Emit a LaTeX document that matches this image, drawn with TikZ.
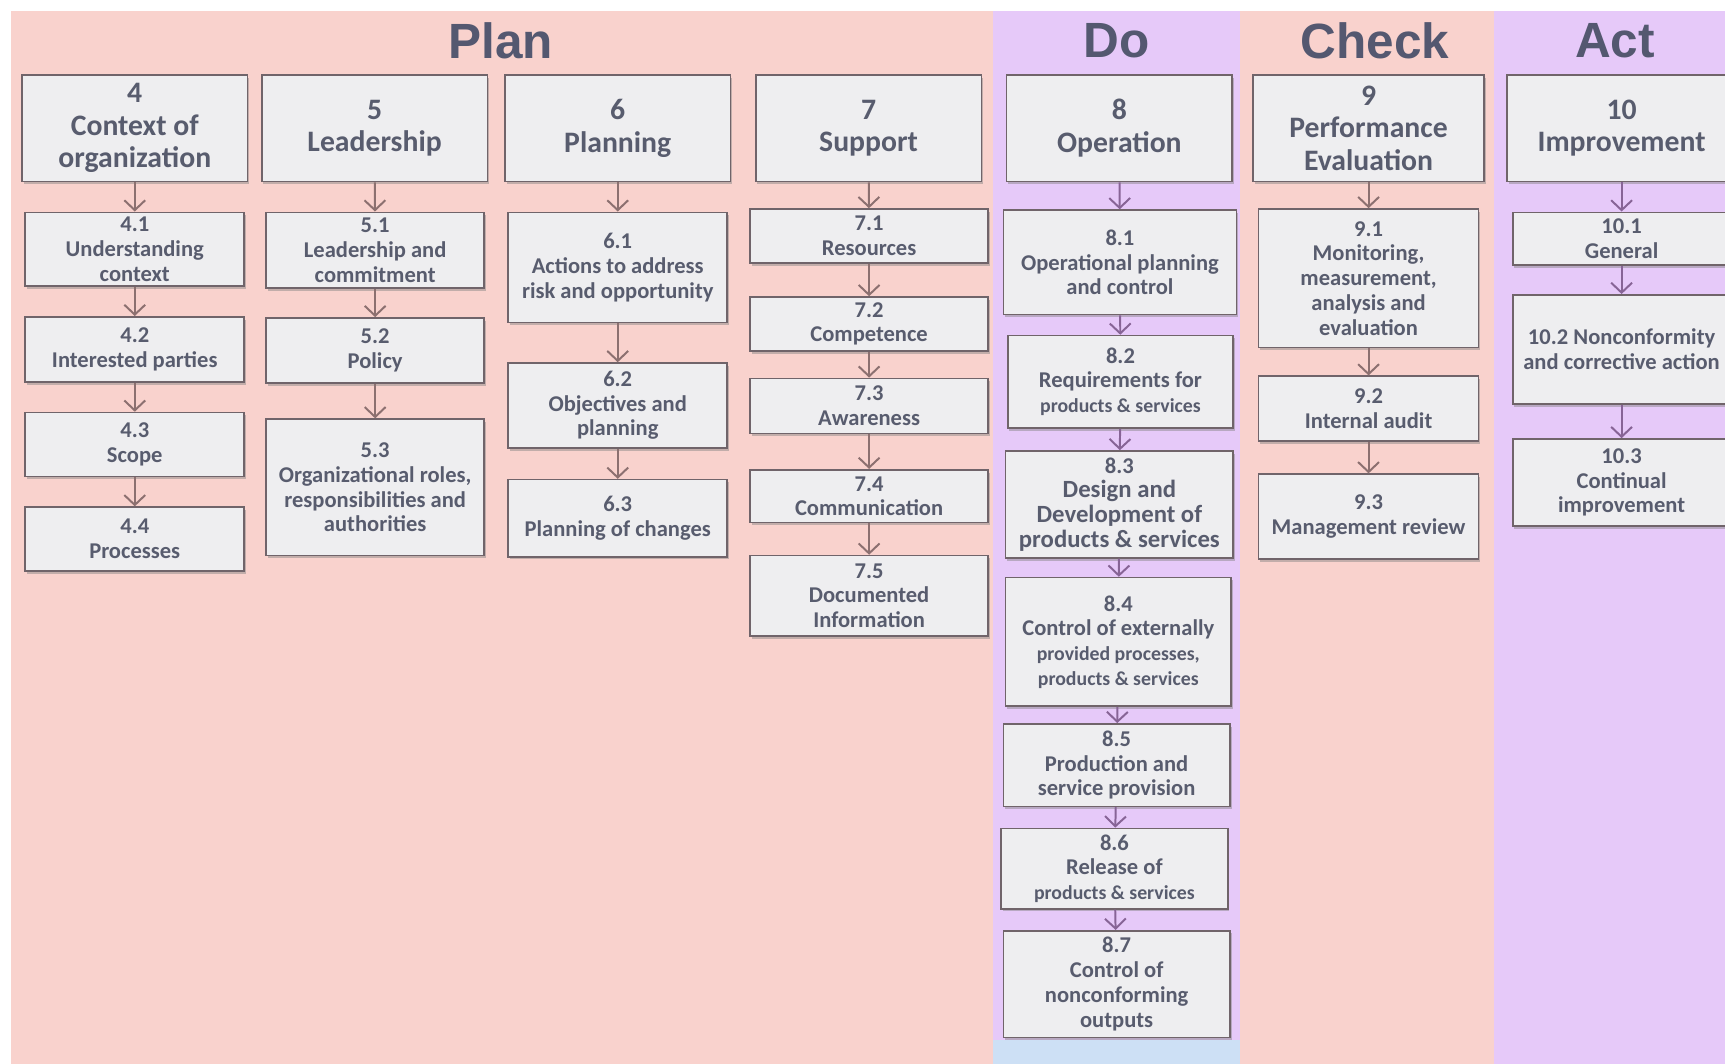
\documentclass[tikz,border=0pt]{standalone}
\usepackage{fontspec}
\setmainfont{Carlito}
\newfontfamily\headfont{Liberation Sans}
\usetikzlibrary{arrows.meta,shadows}

\definecolor{planbg}{RGB}{249,210,205}
\definecolor{dobg}{RGB}{230,201,249}
\definecolor{footbg}{RGB}{205,224,245}
\definecolor{headtxt}{RGB}{84,88,112}
\definecolor{boxtxt}{RGB}{88,92,110}
\definecolor{boxfill}{RGB}{238,238,240}
\definecolor{boxedge}{RGB}{112,100,106}
\definecolor{arrpink}{RGB}{140,112,112}
\definecolor{arrpurple}{RGB}{135,100,150}

\tikzset{
  stage/.style={font=\headfont\bfseries\fontsize{45}{50}\selectfont, text=headtxt},
  clause/.style={draw=boxedge, line width=1.5pt, fill=boxfill, text=boxtxt, inner sep=0pt, align=center,
    font=\bfseries\fontsize{27}{29.5}\selectfont,
    drop shadow={shadow xshift=1.5pt, shadow yshift=-2.5pt, opacity=.45}},
  subbox/.style={clause, font=\bfseries\fontsize{20.5}{22.5}\selectfont},
  wh/.style 2 args={minimum width=#1pt, minimum height=#2pt},
  flow/.style={draw=arrpink, line width=1.8pt, -{Straight Barb[length=9pt,width=19pt]}},
  doflow/.style={flow, draw=arrpurple},
}
\newcommand{\smalltxt}[1]{{\fontsize{18}{22.5}\selectfont #1}}
\newcommand{\bigtxt}[1]{{\fontsize{22.5}{24.5}\selectfont #1}}

\begin{document}
\begin{tikzpicture}[x=1pt, y=-1pt]
\useasboundingbox (0,0) rectangle (1568,967);
\clip (0,0) rectangle (1568,967);

% columns
\fill[planbg] (10,10) rectangle (903,967);
\fill[dobg] (903,10) rectangle (1127,945);
\fill[footbg] (903,945) rectangle (1127,967);
\fill[planbg] (1127,10) rectangle (1358,967);
\fill[dobg] (1358,10) rectangle (1580,967);

\node[stage] (plan) at (455,37) {Plan};
\node[stage] (do) at (1015,37) {Do};
\node[stage] (check) at (1250,37) {Check};
\node[stage] (act) at (1468,37) {Act};

% clause headings
\node[clause, wh={205}{97}] (t4) at (122.5,116.5) {4\\Context of\\organization};
\node[clause, wh={205}{97}] (t5) at (340.5,116.5) {5\\Leadership};
\node[clause, wh={205}{97}] (t6) at (561.5,116.5) {6\\Planning};
\node[clause, wh={205}{97}] (t7) at (789.5,116.5) {7\\Support};
\node[clause, wh={205}{97}] (t8) at (1017.5,116.5) {8\\Operation};
\node[clause, wh={210}{97}] (t9) at (1244,116.5) {9\\Performance\\Evaluation};
\node[clause, wh={208}{97}] (t10) at (1474,116.5) {10\\Improvement};

% 4
\node[subbox, wh={199}{67}] (s41) at (122.5,226.5) {4.1\\Understanding\\context};
\node[subbox, wh={199}{59}] (s42) at (122.5,317.5) {4.2\\Interested parties};
\node[subbox, wh={199}{58}] (s43) at (122.5,404) {4.3\\Scope};
\node[subbox, wh={199}{58}] (s44) at (122.5,490) {4.4\\Processes};
% 5
\node[subbox, wh={198}{69}] (s51) at (341,227.5) {5.1\\Leadership and\\commitment};
\node[subbox, wh={198}{59}] (s52) at (341,318.5) {5.2\\Policy};
\node[subbox, wh={198}{124}] (s53) at (341,443) {5.3\\Organizational roles,\\responsibilities and\\authorities};
% 6
\node[subbox, wh={199}{100}] (s61) at (561.5,243) {6.1\\Actions to address\\risk and opportunity};
\node[subbox, wh={199}{77}] (s62) at (561.5,368.5) {6.2\\Objectives and\\planning};
\node[subbox, wh={199}{70}] (s63) at (561.5,471) {6.3\\Planning of changes};
% 7
\node[subbox, wh={216}{49}] (s71) at (790,214.5) {7.1\\Resources};
\node[subbox, wh={216}{49}] (s72) at (790,294.5) {7.2\\Competence};
\node[subbox, wh={216}{50}] (s73) at (790,369) {7.3\\Awareness};
\node[subbox, wh={216}{48}] (s74) at (790,451) {7.4\\Communication};
\node[subbox, wh={216}{73}] (s75) at (790,541.5) {7.5\\Documented\\Information};
% 8
\node[subbox, wh={212}{95}] (s81) at (1018,238.5) {8.1\\Operational planning\\and control};
\node[subbox, wh={205}{84}] (s82) at (1018.5,347) {8.2\\Requirements for\\\smalltxt{products \& services}};
\node[subbox, wh={207}{97}] (s83) at (1017.5,458.5) {8.3\\\bigtxt{Design and}\\\bigtxt{Development of}\\\bigtxt{products \& services}};
\node[subbox, wh={205}{117}] (s84) at (1016.5,583.5) {8.4\\Control of externally\\\smalltxt{provided processes,}\\\smalltxt{products \& services}};
\node[subbox, wh={206}{75}] (s85) at (1015,695.5) {8.5\\Production and\\service provision};
\node[subbox, wh={206}{73}] (s86) at (1013,789.5) {8.6\\Release of\\\smalltxt{products \& services}};
\node[subbox, wh={206}{97}] (s87) at (1015,894.5) {8.7\\Control of\\nonconforming\\outputs};
% 9
\node[subbox, wh={200}{126}] (s91) at (1244,253) {9.1\\Monitoring,\\measurement,\\analysis and\\evaluation};
\node[subbox, wh={200}{59}] (s92) at (1244,371.5) {9.2\\Internal audit};
\node[subbox, wh={200}{77}] (s93) at (1244,469.5) {9.3\\Management review};
% 10
\node[subbox, wh={198}{48}] (s101) at (1474,217) {10.1\\General};
\node[subbox, wh={198}{99}] (s102) at (1474,317.5) {10.2 Nonconformity\\and corrective action};
\node[subbox, wh={198}{79}] (s103) at (1474,438.5) {10.3\\Continual\\improvement};

% arrows
\foreach \a/\b in {t4/s41,s41/s42,s42/s43,s43/s44,t5/s51,s51/s52,s52/s53,
  t6/s61,s61/s62,s62/s63,t7/s71,s71/s72,s72/s73,s73/s74,s74/s75,
  t9/s91,s91/s92,s92/s93}
  \draw[flow] (\a) -- (\b);
\foreach \a/\b in {t8/s81,s81/s82,s82/s83,s83/s84,s84/s85,s85/s86,s86/s87,
  t10/s101,s101/s102,s102/s103}
  \draw[doflow] (\a) -- (\b);
\end{tikzpicture}
\end{document}
